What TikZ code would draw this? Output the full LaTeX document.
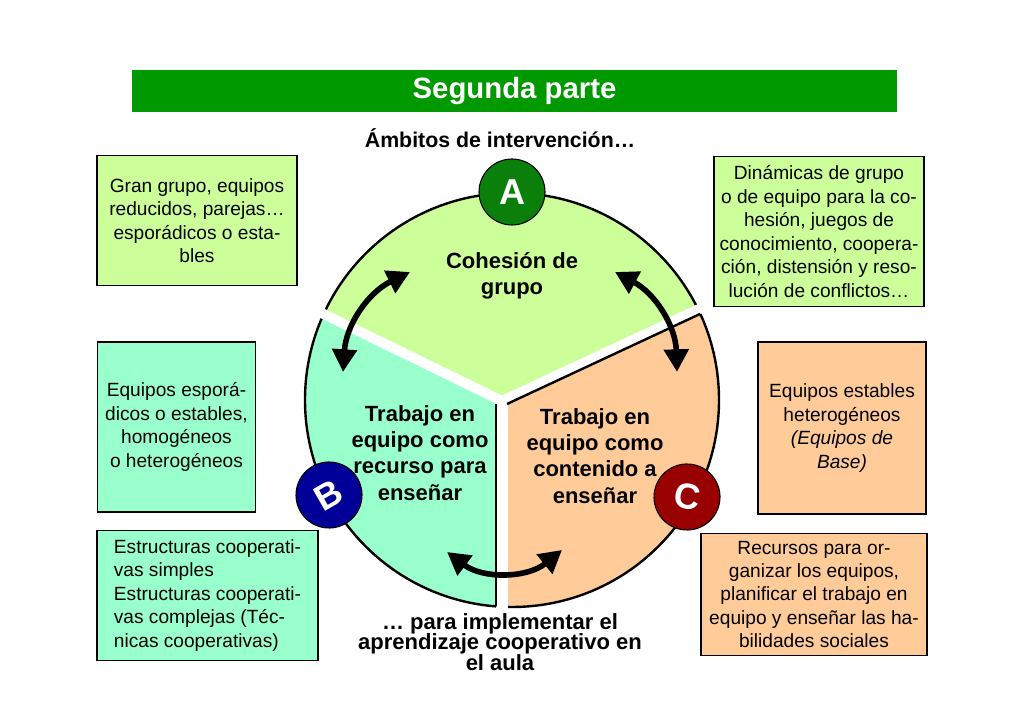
\documentclass[tikz,border=0pt]{standalone}
\usepackage{fontspec}
\setmainfont{Liberation Sans}
\usetikzlibrary{arrows.meta,positioning,calc}
\definecolor{verdeTitulo}{HTML}{009900}
\definecolor{verdeClaro}{HTML}{CCFF99}
\definecolor{aguaClaro}{HTML}{99FFCC}
\definecolor{naranjaClaro}{HTML}{FFCC99}
\definecolor{verdeA}{HTML}{0A800A}
\definecolor{azulB}{HTML}{000099}
\definecolor{rojoC}{HTML}{990000}

\begin{document}
\begin{tikzpicture}[x=0.75pt,y=0.75pt,%
         caja/.style={rectangle,draw,line width=0.9pt,inner sep=2pt,align=center,
                      font=\fontsize{14.35}{17.6}\selectfont},
         letra/.style={circle,draw,line width=0.8pt,minimum size=49.5pt,inner sep=0pt,
                       text=white,font=\fontsize{27}{27}\selectfont\bfseries},
         rotulo/.style={align=center,font=\fontsize{16.5}{19.6}\selectfont\bfseries},
         leyenda/.style={align=center,font=\fontsize{16.5}{15.5}\selectfont\bfseries},
         hueco/.style={white,line width=7.5pt},
         borde/.style={line width=1.8pt},
         flecha/.style={{Triangle[length=17pt,width=18pt]}-{Triangle[length=17pt,width=18pt]},
                        line width=4.2pt}]
        \useasboundingbox (0,0) rectangle (1024,724);
        % cabecera
        \node [fill=verdeTitulo,minimum width=574pt,minimum height=31.5pt,text=white,
               font=\fontsize{22}{22}\selectfont\bfseries] (titulo) at (514.5,633) {Segunda parte};
        \node [font=\fontsize{16}{16}\selectfont\bfseries] (ambitos) at (500,586) {Ámbitos de intervención…};
        % cajas
        \node [caja,fill=verdeClaro,minimum width=150pt,minimum height=98pt] (grupos) at (197,503.5)
              {Gran grupo, equipos\\reducidos, parejas…\\esporádicos o esta-\\bles};
        \node [caja,fill=verdeClaro,minimum width=157.5pt,minimum height=113pt] (dinamicas) at (819,492.5)
              {Dinámicas de grupo\\o de equipo para la co-\\hesión, juegos de\\conocimiento, coopera-\\ción, distensión y reso-\\lución de conflictos…};
        \node [caja,fill=aguaClaro,minimum width=119pt,minimum height=127.5pt] (esporadicos) at (176.5,297)
              {Equipos esporá-\\dicos o estables,\\homogéneos\\o heterogéneos};
        \node [caja,fill=naranjaClaro,minimum width=126pt,minimum height=129pt] (estables) at (842,296)
              {Equipos estables\\heterogéneos\\\textit{(Equipos de}\\\textit{Base)}};
        \node [caja,fill=aguaClaro,align=left,minimum width=165.75pt,minimum height=98pt] (estructuras) at (207.5,128.5)
              {Estructuras cooperati-\\vas simples\\Estructuras cooperati-\\vas complejas (Téc-\\nicas cooperativas)};
        \node [caja,fill=naranjaClaro,minimum width=169.5pt,minimum height=92pt] (recursos) at (814,129.5)
              {Recursos para or-\\ganizar los equipos,\\planificar el trabajo en\\equipo y enseñar las ha-\\bilidades sociales};
        % circulo en tres sectores
        \coordinate (centro) at (512,324);
        \coordinate (corte) at (502,323);
        \begin{scope}
          \clip (centro) circle (207);
          \fill [verdeClaro] (corte) -- (97,520) -- (97,760) -- (930,760) -- (910,513) -- cycle;
          \fill [aguaClaro] (corte) -- (97,520) -- (97,0) -- (502,0) -- cycle;
          \fill [naranjaClaro] (corte) -- (910,513) -- (930,0) -- (502,0) -- cycle;
        \end{scope}
        \draw [borde] (centro) circle (207);
        \draw [hueco] (corte) -- ++(154:230);
        \draw [hueco] (corte) -- ++(25:230);
        \draw [white,line width=9pt] (corte) -- ++(270:215);
        \begin{scope}
          \clip (centro) circle (207);
          \draw [borde] (496,320) -- (496,100);
          \draw [borde] (507,320) -- ++(25:300);
        \end{scope}
        % textos de los sectores
        \node [rotulo] (cohesion) at (512,448) {Cohesión de\\grupo};
        \node [rotulo] (recurso) at (420,271) {Trabajo en\\equipo como\\recurso para\\enseñar};
        \node [rotulo] (contenido) at (595,268) {Trabajo en\\equipo como\\contenido a\\enseñar};
        % flechas
        \coordinate (flechaB) at (343,352);
        \coordinate (flechaA1) at (410,452);
        \coordinate (flechaA2) at (615,452);
        \coordinate (flechaC) at (677,352);
        \coordinate (flechaB2) at (447,172);
        \coordinate (flechaC2) at (562,174);
        \draw [flecha] (flechaB) to[bend left=30] (flechaA1);
        \draw [flecha] (flechaA2) to[bend left=30] (flechaC);
        \draw [flecha] (flechaB2) to[bend right=38] (flechaC2);
        % letras
        \node [letra,fill=verdeA] (A) at (512,532) {A};
        \node [letra,fill=azulB,rotate=30] (B) at (329,229) {B};
        \node [letra,fill=rojoC,rotate=-10] (C) at (687,227) {C};
        % pie
        \node [leyenda] (para) at (500,82) {… para implementar el\\aprendizaje cooperativo en\\el aula};
      \end{tikzpicture}
\end{document}
